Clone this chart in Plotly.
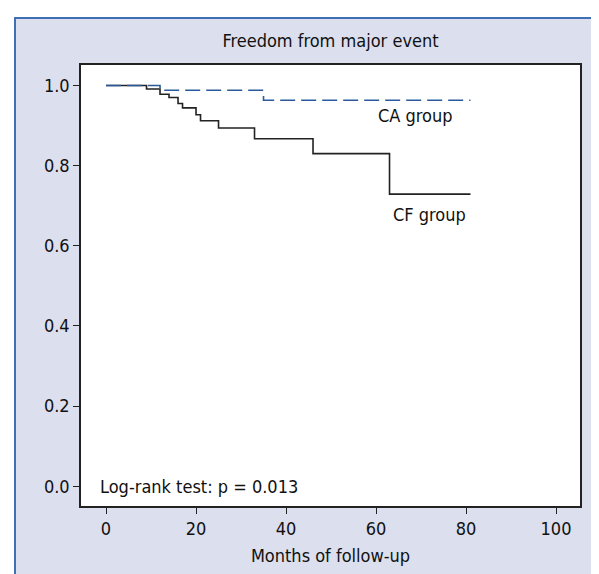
import plotly.graph_objects as go

# Kaplan-Meier step data (months, survival)
cf_months = [0, 9, 12, 14, 16, 17, 20, 21, 25, 33, 46, 63, 81]
cf_surv = [1.0, 0.991, 0.978, 0.970, 0.955, 0.944, 0.927, 0.912, 0.894, 0.867, 0.830, 0.729, 0.729]
ca_months = [0, 12, 35, 81]
ca_surv = [1.0, 0.988, 0.963, 0.963]

x_ticks = [0, 20, 40, 60, 80, 100]
y_ticks = [0.0, 0.2, 0.4, 0.6, 0.8, 1.0]

FONT = "Liberation Sans Narrow, DejaVu Sans Condensed, Roboto, sans-serif"

fig = go.Figure()
fig.add_trace(go.Scatter(x=cf_months, y=cf_surv, mode="lines", line_shape="hv",
                         line=dict(color="#222222", width=1.6), showlegend=False))
fig.add_trace(go.Scatter(x=ca_months, y=ca_surv, mode="lines", line_shape="hv",
                         line=dict(color="#2a5a9c", width=1.6, dash="15px,6px"), showlegend=False))

# background panel (lavender) with blue border on top/left
L, R, T, B, W, H = 73, 572, 57, 498, 599, 574
def px(x):
    return (x - L) / (R - L)
def py(y):
    return (B - y) / (B - T)

fig.add_shape(type="rect", xref="paper", yref="paper", x0=px(7), x1=px(W + 2), y0=py(H + 2), y1=py(10),
              fillcolor="#dcdfee", line=dict(width=0), layer="below")
fig.add_shape(type="rect", xref="paper", yref="paper", x0=0, x1=1, y0=0, y1=1,
              fillcolor="white", line=dict(width=0), layer="below")
fig.add_shape(type="line", xref="paper", yref="paper", x0=px(6), x1=px(W + 2), y0=py(10), y1=py(10),
              line=dict(color="#3f6fb5", width=2), layer="below")
fig.add_shape(type="line", xref="paper", yref="paper", x0=px(7), x1=px(7), y0=py(9), y1=py(H + 2),
              line=dict(color="#3f6fb5", width=2), layer="below")

fig.add_annotation(x=68.7, y=0.925, text="CA group", showarrow=False, xanchor="center", yanchor="middle",
                   font=dict(family=FONT, size=18, color="#111111"))
fig.add_annotation(x=63.3, y=0.677, text="CF group", showarrow=False, xanchor="left", yanchor="middle",
                   font=dict(family=FONT, size=18, color="#111111"))
fig.add_annotation(x=-1.7, y=0.0, text="Log-rank test: p = 0.013", showarrow=False, xanchor="left",
                   yanchor="middle", font=dict(family=FONT, size=18, color="#111111"))

fig.update_layout(
    width=W, height=H,
    margin=dict(l=L, r=W - R, t=T, b=H - B),
    paper_bgcolor="white", plot_bgcolor="white",
    font=dict(family=FONT, size=18, color="#111111"),
    title=dict(text="Freedom from major event", x=(L + R) / 2 / W, xanchor="center",
               y=1 - 33 / H, yanchor="middle", font=dict(family=FONT, size=18, color="#111111")),
    xaxis=dict(range=[-5.56, 105.33], tickvals=x_ticks, ticktext=[str(v) for v in x_ticks],
               ticks="outside", ticklen=6, tickwidth=1.2, tickcolor="#222",
               showline=True, linecolor="#222", linewidth=1.5, mirror=True,
               showgrid=False, zeroline=False,
               title=dict(text="Months of follow-up", standoff=11, font=dict(family=FONT, size=18))),
    yaxis=dict(range=[-0.049, 1.051], tickvals=y_ticks, ticktext=[f"{v:.1f}" for v in y_ticks],
               ticks="outside", ticklen=6, tickwidth=1.2, tickcolor="#222",
               showline=True, linecolor="#222", linewidth=1.5, mirror=True,
               showgrid=False, zeroline=False),
)

fig.write_html("out.html")
